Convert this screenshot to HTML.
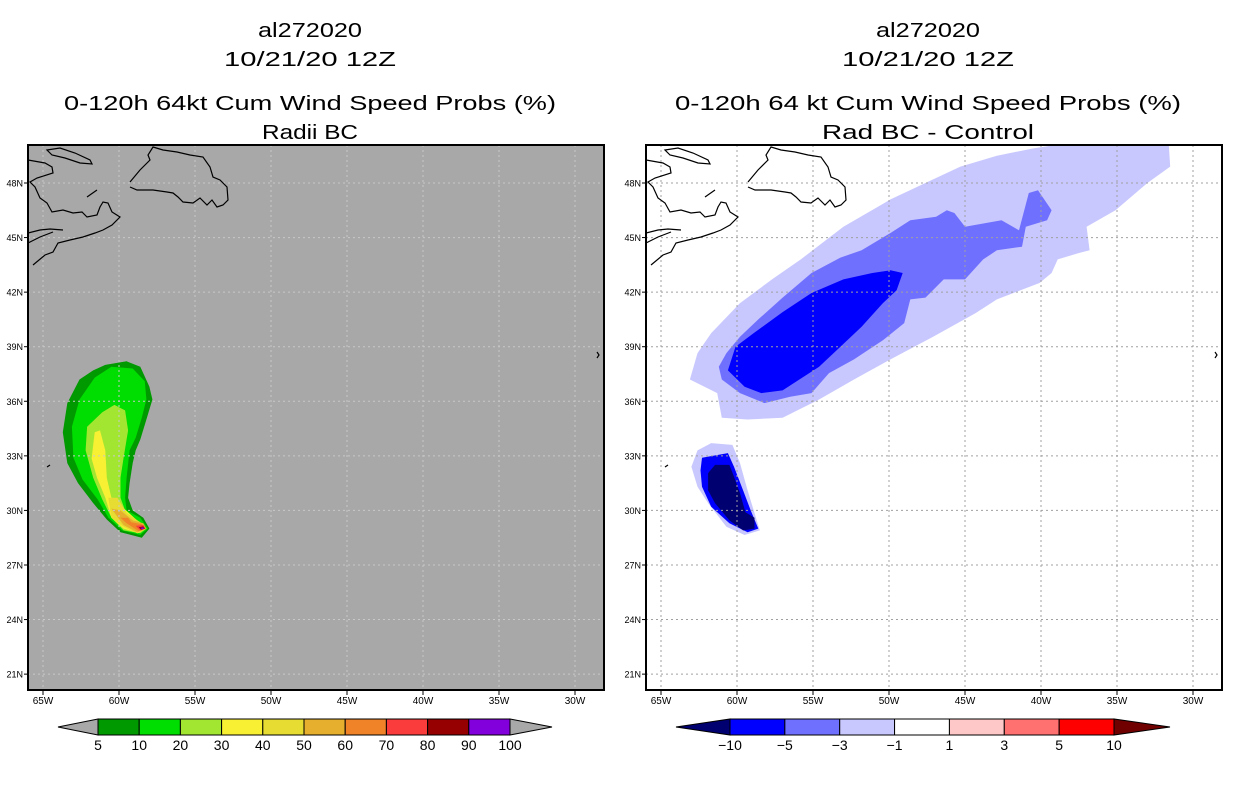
<!DOCTYPE html>
<html><head><meta charset="utf-8"><style>
html,body{margin:0;padding:0;background:#fff;}
svg{display:block;font-family:"Liberation Sans",sans-serif;}
</style></head><body>
<svg id="chart" width="1236" height="800" viewBox="0 0 1236 800">
<defs>
<clipPath id="clipL"><rect x="28" y="145" width="576" height="545"/></clipPath>
<clipPath id="clipR"><rect x="646" y="145" width="576" height="545"/></clipPath>
</defs>
<g id="root"></g>
</svg>
<script>
// ---- data ----
const latTicks = [48,45,42,39,36,33,30,27,24,21];
const lonTicks = [-65,-60,-55,-50,-45,-40,-35,-30];
const leftLevels = [5,10,20,30,40,50,60,70,80,90,100];
const leftColors = ["#009900","#00dd00","#a2e632","#f8f032","#e6dc32","#e6af2d","#f08228","#fa3c3c","#960000","#8200dc"];
const rightLevels = [-10,-5,-3,-1,1,3,5,10];
const rightColors = ["#0000ff","#7070ff","#c8c8ff","#ffffff","#ffc8c8","#ff7070","#ff0000"];
const rightLowColor = "#000070", rightHighColor = "#700000";
// left contours [lon,lat]
const probs5 = [[-60.9,38.0],[-59.5,38.2],[-58.6,37.9],[-58.0,36.8],[-57.8,36.1],[-58.2,35.0],[-58.6,33.9],[-58.9,33.3],[-59.1,32.6],[-59.3,31.5],[-59.4,30.7],[-59.1,30.0],[-58.4,29.6],[-58.0,29.0],[-58.5,28.5],[-59.9,28.8],[-60.8,29.5],[-61.7,30.4],[-62.7,31.5],[-63.4,32.6],[-63.7,34.3],[-63.4,35.9],[-62.6,37.2],[-61.7,37.7]];
const probs10 = [[-61.6,37.3],[-60.5,37.9],[-59.1,37.8],[-58.3,37.1],[-58.2,36.1],[-58.5,35.1],[-58.9,34.0],[-59.3,33.3],[-59.5,31.8],[-59.6,30.7],[-59.5,30.0],[-58.6,29.6],[-58.1,29.0],[-58.6,28.65],[-59.8,28.9],[-60.7,29.6],[-61.4,30.6],[-62.4,31.7],[-63.0,32.9],[-63.1,34.6],[-62.6,36.1]];
const probs20 = [[-61.1,35.4],[-60.3,35.8],[-59.6,35.5],[-59.4,34.4],[-59.7,32.9],[-59.9,31.8],[-59.9,30.7],[-59.6,30.0],[-58.6,29.3],[-58.2,29.0],[-58.6,28.75],[-59.7,28.9],[-60.5,29.6],[-61.1,30.6],[-61.7,31.8],[-62.2,33.3],[-62.1,34.6]];
const probs30 = [[-61.6,34.3],[-61.25,34.4],[-60.9,33.3],[-60.8,31.8],[-60.5,30.7],[-59.8,30.2],[-58.6,29.3],[-58.2,29.0],[-58.75,28.75],[-59.7,29.0],[-60.5,29.6],[-60.9,30.7],[-61.45,31.8],[-61.8,32.85]];
const probs40 = [[-60.7,30.7],[-60.1,30.7],[-59.5,29.85],[-58.6,29.35],[-58.2,29.0],[-58.8,28.75],[-59.7,29.1],[-60.5,29.6]];
const probs50 = [[-60.5,30.1],[-59.9,30.0],[-59.1,29.45],[-58.4,29.3],[-58.2,29.0],[-58.8,28.8],[-59.7,29.2]];
const probs60 = [[-59.9,29.6],[-59.4,29.6],[-59.2,29.35],[-58.5,29.25],[-58.25,29.0],[-58.7,28.85],[-59.5,29.3]];
const probs70 = [[-58.9,29.15],[-58.4,29.2],[-58.25,29.0],[-58.6,28.9]];
const probs80 = [[-58.7,29.08],[-58.4,29.12],[-58.3,29.0],[-58.55,28.94]];
const probs90 = [[-58.6,29.05],[-58.4,29.07],[-58.35,29.0],[-58.5,28.97]];
// right contours (differences)
const diffM1 = [[-63.1,37.2],[-62.6,38.65],[-61.7,39.75],[-59.8,41.4],[-57.7,42.7],[-55.8,43.8],[-53.0,45.6],[-49.9,47.1],[-47.1,48.2],[-45.3,48.9],[-42.9,49.5],[-40.5,49.9],[-38.2,50.2],[-31.6,50.2],[-31.5,48.9],[-33.0,48.0],[-35.1,46.5],[-37.0,45.6],[-36.8,44.3],[-37.5,44.15],[-38.9,43.8],[-39.3,43.05],[-40.1,42.5],[-42.9,41.6],[-44.3,40.85],[-47.1,39.55],[-49.9,38.3],[-52.3,37.2],[-54.6,36.1],[-57.0,35.1],[-59.3,35.0],[-61.0,35.1],[-61.3,36.45]];
const diffM3 = [[-61.2,37.9],[-60.7,38.65],[-59.8,39.55],[-58.6,40.5],[-57.0,41.7],[-55.1,43.05],[-53.2,43.9],[-51.8,44.3],[-49.9,45.25],[-48.6,45.95],[-46.9,46.15],[-46.2,46.5],[-45.7,46.35],[-45.0,45.6],[-42.6,45.95],[-41.45,45.4],[-40.8,47.45],[-40.2,47.6],[-39.3,46.5],[-39.6,45.95],[-41.0,45.6],[-41.25,44.5],[-42.9,44.3],[-43.8,43.8],[-45.0,42.7],[-46.4,42.7],[-47.6,41.7],[-48.6,41.6],[-49.0,40.3],[-50.4,39.35],[-52.3,38.3],[-53.95,37.55],[-55.1,36.45],[-56.5,36.25],[-58.2,35.9],[-59.8,36.45],[-61.0,37.2]];
const diffM5 = [[-60.6,37.7],[-60.1,39.0],[-58.9,39.75],[-57.0,40.9],[-55.1,41.95],[-53.0,42.7],[-51.1,43.05],[-49.9,43.2],[-49.1,43.05],[-49.5,42.1],[-50.4,41.4],[-51.8,40.1],[-53.2,39.0],[-54.6,37.9],[-57.0,36.6],[-58.4,36.45],[-59.5,36.8]];
const diffLowM1 = [[-62.6,33.3],[-61.7,33.7],[-60.3,33.6],[-59.8,32.6],[-59.3,31.1],[-58.9,30.0],[-58.5,28.9],[-59.5,28.65],[-60.7,29.1],[-61.9,30.4],[-62.6,31.3],[-63.0,32.4]];
const diffLowM5 = [[-62.3,32.9],[-60.6,33.15],[-60.2,32.4],[-59.6,31.1],[-59.1,30.0],[-58.6,29.0],[-59.3,28.8],[-60.5,29.3],[-61.7,30.2],[-62.3,31.3],[-62.4,32.2]];
const diffLowM10 = [[-61.9,32.05],[-61.45,32.5],[-60.5,32.5],[-60.2,31.85],[-59.8,30.95],[-59.45,29.9],[-58.85,29.6],[-58.85,29.0],[-59.6,28.9],[-60.5,29.45],[-61.45,30.4],[-61.9,31.1]];

// ---- helpers ----
const NS = "http://www.w3.org/2000/svg";
const root = document.getElementById("root");
function mk(tag, attrs, parent){const e=document.createElementNS(NS,tag);for(const k in attrs)e.setAttribute(k,attrs[k]);(parent||root).appendChild(e);return e;}
function xOf(lon, off){return off + 43 + (lon+65)*15.2;}
function yOf(lat){return 183 + (48-lat)*18.19;}
function poly(pts, off, color, parent, name){
  const d = pts.map(p=>xOf(p[0],off).toFixed(1)+","+yOf(p[1]).toFixed(1)).join(" ");
  const e = mk("polygon",{points:d,fill:color},parent);
  
  
  return e;
}
function text(x,y,str,size,anchor,parent,name,len){
  const a={x:x,y:y,"font-size":size,"text-anchor":anchor||"middle",fill:"#000"};
  if(len){a.textLength=len;a.lengthAdjust="spacingAndGlyphs";}
  const t=mk("text",a,parent);t.textContent=str;
  
  
  return t;
}
const coastPaths = [
 "M28,160 L45,163 L52,167 L53,173 L37,178 L30,182 L35,187 L40,198 L47,203 L52,212 L63,210 L73,213 L82,212 L87,217 L97,215 L100,207 L103,202 L108,203 L112,212 L120,217 L112,225 L103,230 L95,233 L83,237 L70,240 L58,243 L53,252 L45,255 L33,265",
 "M28,233 L40,230 L50,229 L63,230 M28,243 L40,237 L53,232 M87,197 L97,190",
 "M47,150 L60,148 L75,153 L90,160 L92,164 L80,163 L65,158 L52,155 Z",
 "M130,182 L140,170 L150,160 L148,155 L153,147 L163,150 L177,152 L190,155 L203,157 L210,167 L213,177 L220,180 L227,187 L228,200 L223,205 L217,207 L212,200 L207,205 L200,198 L193,203 L183,202 L178,197 L173,193 L167,192 L153,190 L137,190 L130,187",
 "M597,352 L599,355 L597,358 M47,467 L50,465"
];

function panel(off, side){
  const g = mk("g",{});
  
  
  const bx = 28+off;
  const bg = mk("rect",{x:bx,y:145,width:576,height:545,fill: side==="left"?"#a8a8a8":"#ffffff"},g);
  
  
  const cg = mk("g",{"clip-path":"url(#clip"+(side==="left"?"L":"R")+")"},g);
  
  
  if(side==="left"){
    const sets=[probs5,probs10,probs20,probs30,probs40,probs50,probs60,probs70,probs80,probs90];
    sets.forEach((s,i)=>poly(s,off,leftColors[i],cg,'contour-'+leftLevels[i]+'pct'));
  } else {
    poly(diffM1,off,rightColors[2],cg,'contour-minus1');
    poly(diffM3,off,rightColors[1],cg,'contour-minus3');
    poly(diffM5,off,rightColors[0],cg,'contour-minus5');
    poly(diffLowM1,off,rightColors[2],cg,'contour-south-minus1');
    poly(diffLowM5,off,rightColors[0],cg,'contour-south-minus5');
    poly(diffLowM10,off,rightLowColor,cg,'contour-south-minus10');
  }
  // grid
  const gg = mk("g",{stroke: side==="left"?"#c8c8c8":"#a0a0a0","stroke-width":1,"stroke-dasharray":"2,3"},g);
  
  
  latTicks.forEach(l=>{const y=yOf(l);mk("line",{x1:bx,x2:bx+576,y1:y,y2:y},gg);});
  lonTicks.forEach(l=>{const x=xOf(l,off);mk("line",{x1:x,x2:x,y1:145,y2:690},gg);});
  // coast
  const cst = mk("g",{transform:"translate("+off+",0)",fill:"none",stroke:"#000","stroke-width":1.2,"clip-path":"url(#clipL)"},g);
  
  
  coastPaths.forEach(d=>mk("path",{d:d},cst));
  // border
  const br = mk("rect",{x:bx,y:145,width:576,height:545,fill:"none",stroke:"#000","stroke-width":2},g);
  
  
  // ticks & labels
  latTicks.forEach(l=>{const y=yOf(l);
    mk("line",{x1:bx-4,x2:bx,y1:y,y2:y,stroke:"#000","stroke-width":1},g);
    text(bx-5,y+3.5,l+"N",9,"end",g,'lat-label-'+l);});
  lonTicks.forEach(l=>{const x=xOf(l,off);
    mk("line",{x1:x,x2:x,y1:690,y2:695,stroke:"#000","stroke-width":1},g);
    text(x,704,(-l)+"W",10,"middle",g,'lon-label-'+(-l));});
  // titles
  const cx = side==="left"?310:928;
  text(cx,37,"al272020",20,"middle",g,side+'-title-storm',104);
  text(cx,66,"10/21/20 12Z",20,"middle",g,side+'-title-date',172);
  if(side==="left"){
    text(cx,110,"0-120h 64kt Cum Wind Speed Probs (%)",20,"middle",g,'left-title-product',492);
    text(cx,139,"Radii BC",20,"middle",g,'left-title-subtitle',96);
  } else {
    text(cx,110,"0-120h 64 kt Cum Wind Speed Probs (%)",20,"middle",g,'right-title-product',506);
    text(cx,139,"Rad BC - Control",20,"middle",g,'right-title-subtitle',212);
  }
}
panel(0,"left");
panel(618,"right");

// colorbars
function colorbar(x0,x1,tipL,tipR,cols,lowC,highC,labels,name){
  const g=mk("g",{});
  
  
  const y0=719,y1=735,ym=727;
  const w=(x1-x0)/cols.length;
  mk("polygon",{points:tipL+","+ym+" "+x0+","+y0+" "+x0+","+y1,fill:lowC,stroke:"#000","stroke-width":1},g);
  mk("polygon",{points:tipR+","+ym+" "+x1+","+y0+" "+x1+","+y1,fill:highC,stroke:"#000","stroke-width":1},g);
  cols.forEach((c,i)=>{
    const r=mk("rect",{x:x0+i*w,y:y0,width:w,height:y1-y0,fill:c,stroke:"#000","stroke-width":1},g);
    
    
  });
  labels.forEach((l,i)=>{
    text(x0+i*w,750,String(l).replace("-","\u2212"),14,"middle",g,name+'-label-'+i);
  });
}
colorbar(98,510,58,552,leftColors,"#a8a8a8","#a8a8a8",leftLevels,'left-colorbar');
colorbar(730,1114,676,1170,rightColors,rightLowColor,rightHighColor,rightLevels,'right-colorbar');
</script>
</body></html>
